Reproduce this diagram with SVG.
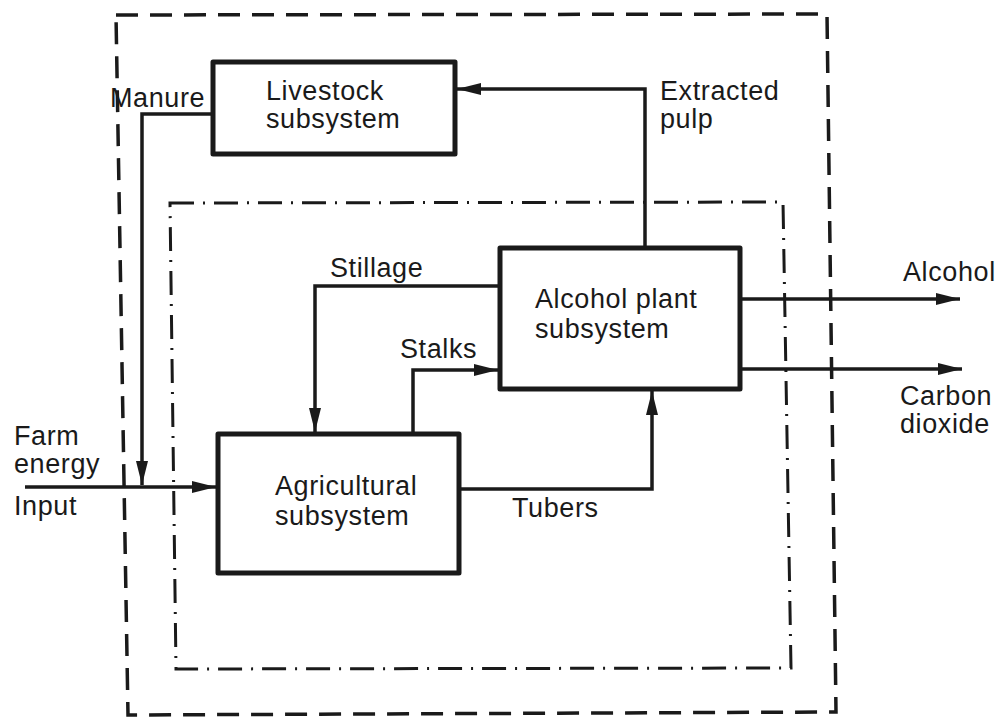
<svg xmlns="http://www.w3.org/2000/svg" width="998" height="719" viewBox="0 0 998 719">
<style>
.box{fill:none;stroke:#1a1a1a;stroke-width:5;stroke-linejoin:round}
.ln{fill:none;stroke:#1a1a1a;stroke-width:3.5;stroke-linejoin:miter}
.outer{fill:none;stroke:#1a1a1a;stroke-width:3.5;stroke-dasharray:22 12}
.inner{fill:none;stroke:#1a1a1a;stroke-width:3;stroke-dasharray:24 9 2 9}
text{font-family:"Liberation Sans",Arial,sans-serif;font-size:27px;letter-spacing:0.6px;fill:#1a1a1a}
</style>
<defs>
<marker id="arr" markerUnits="userSpaceOnUse" markerWidth="26" markerHeight="16" refX="24" refY="8" orient="auto">
<path d="M0,2 L24,8 L0,14 Z" fill="#1a1a1a"/>
</marker>
</defs>
<rect width="998" height="719" fill="#fff"/>
<g id="boundaries">
<path class="outer" d="M116,15 L827,14 L836,712 L128,715 Z"/>
<path class="inner" d="M170,203 L783,202 L791,668 L176,669 Z"/>
</g>
<g id="connectors">
<path class="ln" d="M645,248 L645,89 L457,89" marker-end="url(#arr)"/>
<path class="ln" d="M213,114 L142,114 L142,485" marker-end="url(#arr)"/>
<path class="ln" d="M25,487 L216,487" marker-end="url(#arr)"/>
<path class="ln" d="M500,286 L315,286 L315,432" marker-end="url(#arr)"/>
<path class="ln" d="M413,434 L413,370 L498,370" marker-end="url(#arr)"/>
<path class="ln" d="M459,489 L652,489 L652,391" marker-end="url(#arr)"/>
<path class="ln" d="M740,299 L960,299" marker-end="url(#arr)"/>
<path class="ln" d="M740,369 L962,369" marker-end="url(#arr)"/>
</g>
<g id="livestock">
<rect class="box" x="213" y="62" width="242" height="92"/>
<text x="266" y="100">Livestock</text>
<text x="266" y="128">subsystem</text>
</g>
<g id="alcohol-plant">
<rect class="box" x="500" y="248" width="240" height="141"/>
<text x="535" y="308">Alcohol plant</text>
<text x="535" y="338">subsystem</text>
</g>
<g id="agricultural">
<rect class="box" x="218" y="434" width="241" height="139"/>
<text x="275" y="495">Agricultural</text>
<text x="275" y="525">subsystem</text>
</g>
<g id="labels">
<text x="110" y="107">Manure</text>
<text x="660" y="100">Extracted</text>
<text x="660" y="128">pulp</text>
<text x="330" y="277">Stillage</text>
<text x="400" y="358">Stalks</text>
<text x="903" y="281">Alcohol</text>
<text x="900" y="405">Carbon</text>
<text x="900" y="433">dioxide</text>
<text x="14" y="445">Farm</text>
<text x="14" y="473">energy</text>
<text x="14" y="515">Input</text>
<text x="512" y="517">Tubers</text>
</g>
</svg>
